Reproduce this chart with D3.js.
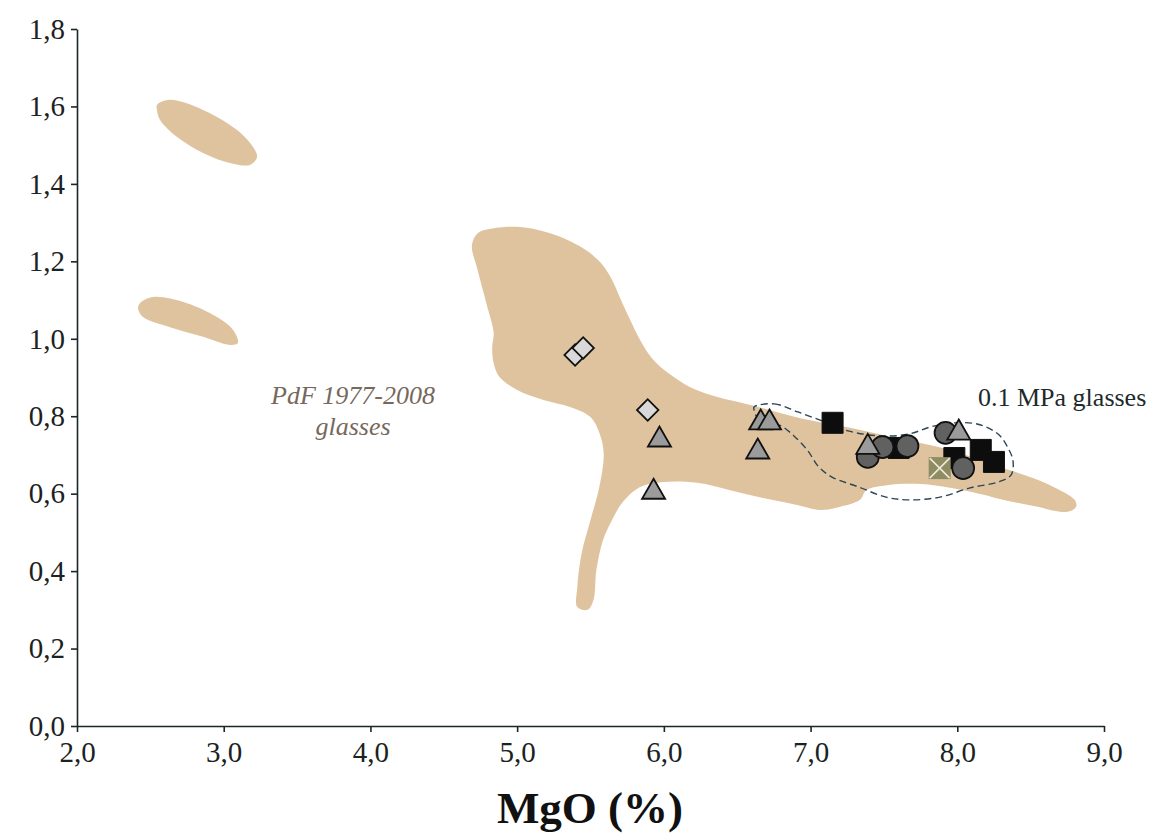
<!DOCTYPE html>
<html><head><meta charset="utf-8">
<script src="https://cdn.jsdelivr.net/npm/d3@7"></script>
<style>body{margin:0;background:#fff;} svg{display:block;}</style>
</head><body>
<script>
// ---- data (MgO %, y value) ----
const xTicks = [2,3,4,5,6,7,8,9];
const yTicks = [0,0.2,0.4,0.6,0.8,1.0,1.2,1.4,1.6,1.8];

const fieldMain = [[4.692,1.242],[4.733,1.273],[4.849,1.286],[5.00,1.289],[5.22,1.273],[5.449,1.234],[5.565,1.198],[5.647,1.152],[5.708,1.100],[5.770,1.049],[5.838,0.997],[5.919,0.950],[6.028,0.912],[6.18,0.875],[6.36,0.850],[6.59,0.829],[6.93,0.795],[7.27,0.770],[7.61,0.741],[7.95,0.713],[8.29,0.669],[8.52,0.640],[8.70,0.609],[8.80,0.584],[8.81,0.566],[8.75,0.553],[8.52,0.568],[8.29,0.586],[8.18,0.597],[7.95,0.615],[7.75,0.625],[7.52,0.622],[7.38,0.609],[7.337,0.584],[7.201,0.566],[7.064,0.558],[6.908,0.571],[6.676,0.589],[6.451,0.609],[6.226,0.628],[5.994,0.630],[5.838,0.617],[5.715,0.576],[5.647,0.532],[5.585,0.480],[5.54,0.403],[5.52,0.325],[5.48,0.300],[5.41,0.307],[5.41,0.359],[5.44,0.447],[5.50,0.532],[5.56,0.617],[5.59,0.705],[5.56,0.757],[5.50,0.798],[5.36,0.824],[5.18,0.842],[5.00,0.868],[4.88,0.901],[4.84,0.937],[4.83,0.979],[4.84,1.015],[4.79,1.092],[4.73,1.178]];
const fieldUpper = [[2.545,1.604],[2.634,1.617],[2.859,1.591],[3.091,1.539],[3.200,1.495],[3.227,1.469],[3.179,1.449],[3.043,1.454],[2.859,1.480],[2.682,1.521],[2.566,1.565],[2.545,1.591]];
const fieldLower = [[2.429,1.092],[2.518,1.108],[2.750,1.092],[2.954,1.056],[3.063,1.023],[3.097,0.989],[3.043,0.984],[2.859,1.005],[2.634,1.030],[2.450,1.056],[2.416,1.079]];
const contour01 = [[6.615,0.824],[6.751,0.832],[6.914,0.811],[7.098,0.785],[7.255,0.762],[7.487,0.749],[7.671,0.754],[7.814,0.772],[7.951,0.782],[8.135,0.780],[8.278,0.754],[8.346,0.718],[8.380,0.684],[8.366,0.648],[8.278,0.630],[8.087,0.615],[7.882,0.591],[7.671,0.584],[7.514,0.591],[7.330,0.617],[7.146,0.643],[7.051,0.671],[6.983,0.710],[6.887,0.749],[6.799,0.775],[6.703,0.785],[6.635,0.798],[6.615,0.816]];

const squares = [[7.15,0.783],[7.60,0.718],[7.98,0.692],[8.16,0.713],[8.25,0.682]];
const crossed = [[7.88,0.666]];
const circles = [[7.39,0.695],[7.49,0.720],[7.66,0.723],[7.92,0.757],[8.04,0.666]];
const triangles = [[5.97,0.739],[5.93,0.604],[6.66,0.783],[6.72,0.783],[6.64,0.708],[7.39,0.720],[8.01,0.757]];
const diamonds = [[5.395,0.958],[5.45,0.976],[5.89,0.816]];

const xTitle = "MgO (%)";
const fieldLabel = ["PdF 1977-2008","glasses"];
const contourLabel = "0.1 MPa glasses";

// ---- drawing ----
const W=1154,H=836;
const svg=d3.select("body").append("svg").attr("width",W).attr("height",H);
svg.append("rect").attr("width",W).attr("height",H).attr("fill","#fff");
const x=d3.scaleLinear().domain([2,9]).range([77,1104]);
const y=d3.scaleLinear().domain([0,1.8]).range([726,29]);
const fmt=d=>d3.format(".1f")(d).replace(".",",");

const area=d3.line().x(d=>x(d[0])).y(d=>y(d[1])).curve(d3.curveCatmullRomClosed.alpha(0.5));
const tan="#dfc39f";
[fieldMain,fieldUpper,fieldLower].forEach(p=>svg.append("path").attr("d",area(p)).attr("fill",tan));

svg.append("path").attr("d",area(contour01)).attr("fill","none")
  .attr("stroke","#2b4654").attr("stroke-width",1.4).attr("stroke-dasharray","7,4");

// axes
const font="'Liberation Serif','Times New Roman',serif";
const ax=svg.append("g").attr("transform",`translate(0,${y(0)})`)
  .call(d3.axisBottom(x).tickValues(xTicks).tickFormat(fmt).tickSize(6).tickSizeOuter(0).tickPadding(9));
const ay=svg.append("g").attr("transform",`translate(${x(2)},0)`)
  .call(d3.axisLeft(y).tickValues(yTicks).tickFormat(fmt).tickSize(6).tickSizeOuter(0).tickPadding(6));
[ax,ay].forEach(g=>{
  g.attr("font-size",null).attr("font-family",null);
  g.selectAll("path,line").attr("stroke","#1b2626").attr("stroke-width",1.6);
  g.selectAll("text").attr("font-family",font).attr("font-size",29).attr("fill","#1b2222");
});

// markers
const S="#111";
function sym(type,size){return d3.symbol().type(type).size(size)();}
svg.selectAll(".sq").data(squares).join("path").attr("d",sym(d3.symbolSquare,441))
  .attr("transform",d=>`translate(${x(d[0])},${y(d[1])})`).attr("fill","#0d0d0d").attr("stroke",S).attr("stroke-width",1);
const cg=svg.selectAll(".cx").data(crossed).join("g").attr("transform",d=>`translate(${x(d[0])},${y(d[1])})`);
cg.append("rect").attr("x",-11).attr("y",-11).attr("width",22).attr("height",22).attr("fill","#8f8b62");
cg.append("path").attr("d","M-10,-10L10,10M10,-10L-10,10").attr("stroke","#ecebd8").attr("stroke-width",1.6);
svg.selectAll(".ci").data(circles).join("circle").attr("cx",d=>x(d[0])).attr("cy",d=>y(d[1])).attr("r",11)
  .attr("fill","#616161").attr("stroke",S).attr("stroke-width",1.8);
svg.selectAll(".tr").data(triangles).join("path").attr("d",sym(d3.symbolTriangle,230))
  .attr("transform",d=>`translate(${x(d[0])},${y(d[1])})`).attr("fill","#9b9b9b").attr("stroke",S).attr("stroke-width",1.8).attr("stroke-linejoin","miter");
svg.selectAll(".di").data(diamonds).join("path").attr("d",sym(d3.symbolSquare,230))
  .attr("transform",d=>`translate(${x(d[0])},${y(d[1])}) rotate(45)`).attr("fill","#d9d9d9").attr("stroke",S).attr("stroke-width",1.8);

// labels
svg.append("text").attr("x",590).attr("y",823).attr("text-anchor","middle")
  .attr("font-family",font).attr("font-weight","bold").attr("font-size",45).attr("fill","#111").text(xTitle);
svg.selectAll(".fl").data(fieldLabel).join("text").attr("x",353).attr("y",(d,i)=>404+i*31)
  .attr("text-anchor","middle").attr("font-family",font).attr("font-style","italic").attr("font-size",26)
  .attr("fill","#76685b").text(d=>d);
svg.append("text").attr("x",978).attr("y",406).attr("font-family",font).attr("font-size",26)
  .attr("fill","#1e2a2a").text(contourLabel);
</script>
</body></html>
